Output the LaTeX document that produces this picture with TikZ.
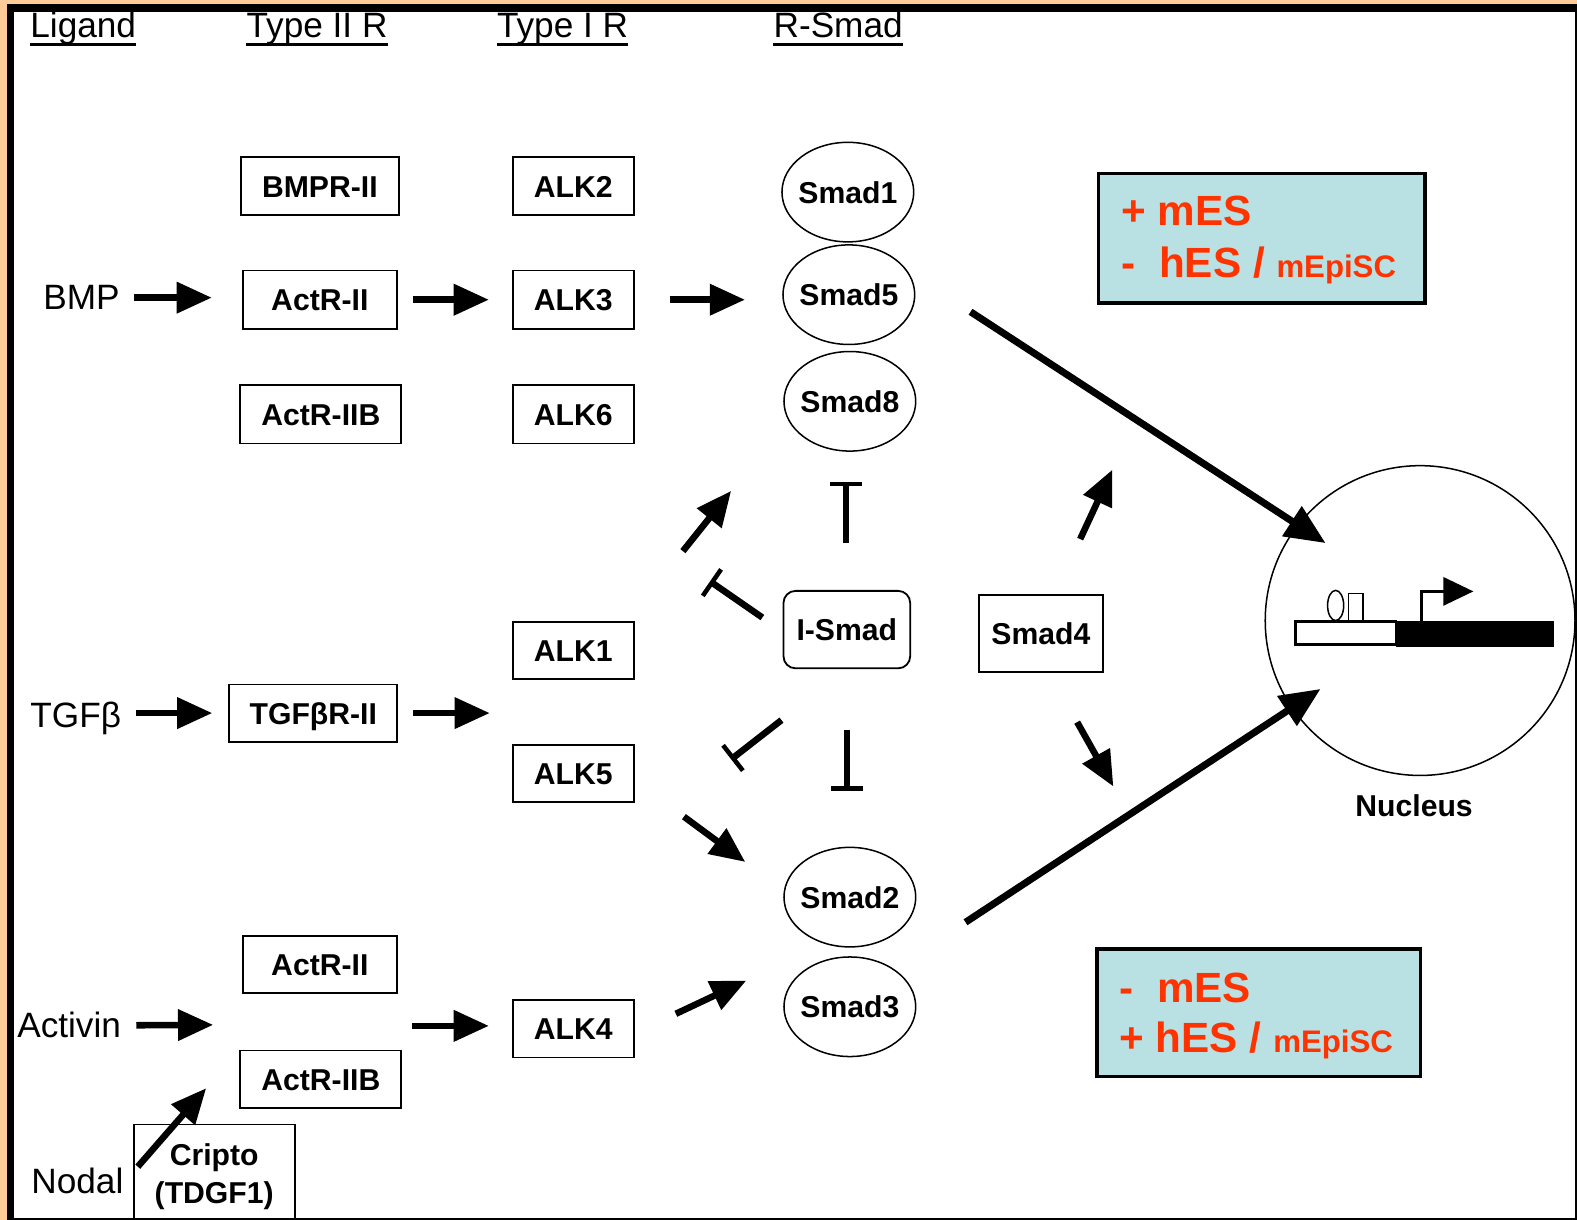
\documentclass[tikz,border=0pt]{standalone}
\usepackage{fontspec}
\setmainfont{Liberation Sans}
\usetikzlibrary{arrows.meta,shapes.geometric,calc}
\definecolor{peach}{RGB}{255,204,153}
\definecolor{paleblue}{RGB}{185,225,228}
\definecolor{redtxt}{RGB}{255,51,0}
\newcommand{\HdrFont}{\fontsize{35}{42}\selectfont}
\newcommand{\LblFont}{\fontsize{35}{42}\selectfont}
\newcommand{\BxFont}{\fontsize{30}{37}\selectfont\bfseries}
\newcommand{\RedBig}{\fontsize{42}{50}\selectfont\bfseries}
\newcommand{\RedSmall}{\fontsize{31}{37}\selectfont\bfseries}
\begin{document}
\begin{tikzpicture}[x=1pt,y=-1pt,
  hdr/.style={font=\HdrFont, inner sep=0pt},
  lbl/.style={font=\LblFont, inner sep=0pt},
  bx/.style={draw, line width=1.8pt, inner sep=0pt, font=\BxFont, text height=22pt, text depth=0pt, minimum height=57pt},
  sm/.style={draw, ellipse, line width=1.5pt, minimum width=131pt, minimum height=99pt, inner xsep=-4pt, inner ysep=0pt, font=\BxFont, text height=22pt, text depth=0pt},
  crip/.style={draw, line width=1.8pt, inner sep=0pt, font=\BxFont, align=center, minimum width=160pt, minimum height=104pt},
  bluebox/.style={draw, line width=3.5pt, fill=paleblue, inner sep=0pt},
  redt/.style={font=\RedBig, text=redtxt, inner sep=0pt, anchor=base west},
  arr/.style={line width=6.5pt, -{Triangle[length=35pt,width=30pt]}},
  bigarr/.style={line width=7pt, -{Triangle[length=40pt,width=34pt]}},
  tbar/.style={line width=6.5pt, -{Bar[width=32pt,line width=4.5pt]}}
]
% frame
\fill[peach] (0,0) rectangle (1568,1213);
\fill[black] (7,4) rectangle (1568,1213);
\fill[white] (14,12) rectangle (1565.5,1211);
\useasboundingbox (0,0) rectangle (1568,1213);

% headers
\node[hdr, anchor=base west] (hlig) at (30,37) {Ligand};
\node[hdr, anchor=base west] (htii) at (245,37) {Type II R};
\node[hdr, anchor=base west] (hti) at (494,37) {Type I R};
\node[hdr, anchor=base west] (hrs) at (769,37) {R-Smad};
\foreach \h in {hlig,htii,hti,hrs}
  \draw[line width=2.5pt] ([yshift=-7pt]\h.base west) -- ([yshift=-7pt]\h.base east);

% ligands
\node[lbl, anchor=base west] (bmp) at (43,308) {BMP};
\node[lbl, anchor=base west] (tgfb) at (30,723) {TGFβ};
\node[lbl, anchor=base west] (activin) at (17,1032) {Activin};
\node[lbl, anchor=base west] (nodal) at (31,1187) {Nodal};

% type II receptors
\node[bx, minimum width=157pt] (bmpr2) at (318,185) {BMPR-II};
\node[bx, minimum width=153pt, minimum height=58pt] (actr2a) at (318,298) {ActR-II};
\node[bx, minimum width=160pt, minimum height=58pt] (actr2ba) at (319,412) {ActR-IIB};
\node[bx, minimum width=167pt] (tgfbr2) at (311.5,709) {TGFβR-II};
\node[bx, minimum width=153pt] (actr2c) at (318,959) {ActR-II};
\node[bx, minimum width=160pt] (actr2bc) at (319,1073) {ActR-IIB};
\node[crip] (cripto) at (213,1170) {Cripto\\(TDGF1)};

% type I receptors
\node[bx, minimum width=120pt] (alk2) at (570,185) {ALK2};
\node[bx, minimum width=120pt, minimum height=58pt] (alk3) at (570,298) {ALK3};
\node[bx, minimum width=120pt, minimum height=58pt] (alk6) at (570,412) {ALK6};
\node[bx, minimum width=120pt] (alk1) at (570,647) {ALK1};
\node[bx, minimum width=120pt] (alk5) at (570,769) {ALK5};
\node[bx, minimum width=120pt] (alk4) at (570,1023) {ALK4};

% R-Smads
\node[sm] (smad1) at (843,191) {Smad1};
\node[sm] (smad5) at (844,293) {Smad5};
\node[sm] (smad8) at (845,399) {Smad8};
\node[sm] (smad2) at (845,892) {Smad2};
\node[sm] (smad3) at (845,1001) {Smad3};

% I-Smad, Smad4
\node[bx, rounded corners=12pt, minimum width=126pt, minimum height=77pt] (ismad) at (842,626) {I-Smad};
\node[bx, minimum width=124pt, minimum height=77pt] (smad4) at (1035,630) {Smad4};

% nucleus
\node[draw, circle, line width=1.5pt, minimum size=308pt, inner sep=0pt] (nucleus) at (1412,617) {};
\node[font=\BxFont, inner sep=0pt, anchor=base] (nuclbl) at (1406,812) {Nucleus};
\draw[line width=2.5pt, fill=white] (1288,618) rectangle (1388,641);
\fill[black] (1388,617) rectangle (1545,643);
\draw[line width=1.5pt] (1328,602) ellipse (8 and 15);
\draw[line width=1.5pt] (1341,590) rectangle (1355,617);
\draw[line width=3pt, -{Triangle[length=30pt,width=28pt]}] (1413,617) -- (1413,588) -- (1465,588);

% outcome boxes
\node[bluebox, minimum width=325pt, minimum height=129pt] (outtop) at (1254.5,237) {};
\node[redt] (ot1) at (1115,224) {+ mES};
\node[redt] (ot2) at (1115,276) {-\ \ hES / {\RedSmall mEpiSC}};
\node[bluebox, minimum width=322pt, minimum height=127pt] (outbot) at (1251.5,1007) {};
\node[redt] (ob1) at (1113,997) {-\ \ mES};
\node[redt] (ob2) at (1113,1046) {+ hES / {\RedSmall mEpiSC}};

% coordinates for free ends
\coordinate (tgfhub) at (487,709);
\coordinate (acthub) at (212,1019);
\coordinate (actout) at (410,1020);
\coordinate (nodtail) at (137,1160);
\coordinate (nodtip) at (205,1082);
\coordinate (a4t) at (672,1008);
\coordinate (a4h) at (742,975);
\coordinate (a5t) at (680,812);
\coordinate (a5h) at (741,857);
\coordinate (a1t) at (679,548);
\coordinate (a1h) at (727,488);
\coordinate (s4ut) at (1074,536);
\coordinate (s4uh) at (1106,467);
\coordinate (s4dt) at (1071,718);
\coordinate (s4dh) at (1107,782);
\coordinate (n1t) at (965,310);
\coordinate (n1h) at (1318,540);
\coordinate (n2t) at (960,917);
\coordinate (n2h) at (1313,685);
\coordinate (iut) at (841,540);
\coordinate (iuh) at (841,479);
\coordinate (ilut) at (758,614);
\coordinate (iluh) at (706,578);
\coordinate (ildt) at (777,716);
\coordinate (ildh) at (727,755);
\coordinate (idt) at (842,726);
\coordinate (idh) at (842,786);

% arrows
\draw[arr, shorten <=14pt, shorten >=30pt] (bmp.east) -- (bmp.east -| actr2a.west);
\draw[arr, shorten <=15pt, shorten >=23pt] (actr2a.east) -- (alk3.west);
\draw[arr, shorten <=35pt, shorten >=37pt] (alk3.east) -- (alk3.east -| smad5.west);
\draw[arr, shorten <=15pt, shorten >=16pt] (tgfb.east |- tgfbr2.west) -- (tgfbr2.west);
\draw[arr, shorten <=15pt] (tgfbr2.east) -- (tgfhub);
\draw[arr, shorten <=15pt] (activin.east) -- (acthub);
\draw[arr, shorten >=23pt] (actout) -- (actout -| alk4.west);
\draw[arr] (nodtail) -- (nodtip);
\draw[arr] (a4t) -- (a4h);
\draw[arr] (a5t) -- (a5h);
\draw[arr] (a1t) -- (a1h);
\draw[arr] (s4ut) -- (s4uh);
\draw[arr] (s4dt) -- (s4dh);
\draw[bigarr] (n1t) -- (n1h);
\draw[bigarr] (n2t) -- (n2h);
\draw[tbar] (iut) -- (iuh);
\draw[tbar] (ilut) -- (iluh);
\draw[tbar] (ildt) -- (ildh);
\draw[tbar] (idt) -- (idh);
\end{tikzpicture}
\end{document}
